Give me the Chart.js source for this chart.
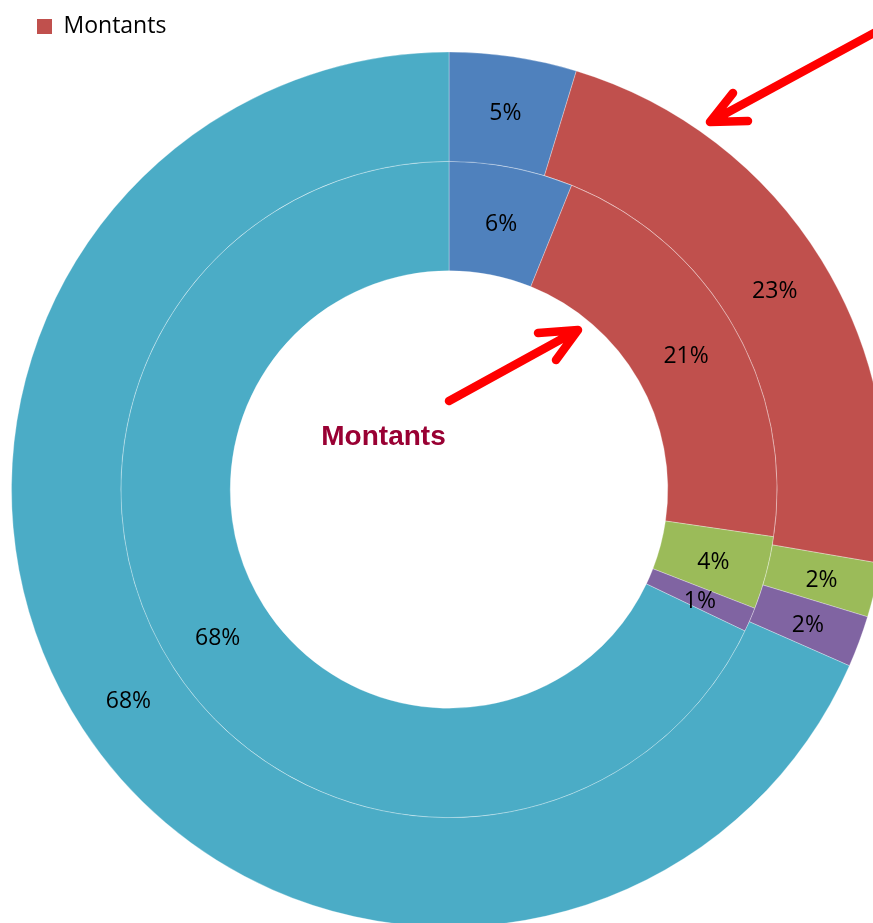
<!DOCTYPE html>
<html>
<head>
<meta charset="utf-8">
<script src="https://cdn.jsdelivr.net/npm/chart.js@4.4.1/dist/chart.umd.min.js"></script>
<style>
  html, body { margin: 0; padding: 0; background: #fff; overflow: hidden; }
  #wrap { position: relative; width: 873px; height: 931px; }
</style>
</head>
<body>
<div id="wrap"><canvas id="montantsChart"></canvas></div>
<script>
    // données
    var categories = ['Catégorie 1', 'Catégorie 2', 'Catégorie 3', 'Catégorie 4', 'Catégorie 5'];
    var outerValues = [4.7, 23.0, 2.0, 1.9, 68.4];
    var innerValues = [6.1, 21.2, 3.6, 1.2, 67.9];
    var sliceColors = ['#4F81BD', '#C0504D', '#9BBB59', '#8064A2', '#4BACC6'];
    var legendText = 'Montants';
    var centerText = 'Montants';

    // pourcentages sur chaque part
    var percentLabels = {
    id: 'percentLabels',
    afterDatasetsDraw: function(chart) {
    var ctx = chart.ctx;
    ctx.save();
    ctx.font = '23px "Open Sans"';
    ctx.fillStyle = '#000';
    ctx.textAlign = 'center';
    ctx.textBaseline = 'middle';
    chart.data.datasets.forEach(function(ds, i) {
    var meta = chart.getDatasetMeta(i);
    var total = ds.data.reduce(function(a, b) { return a + b; }, 0);
    meta.data.forEach(function(arc, j) {
    var p = arc.tooltipPosition();
    ctx.fillText(Math.round(ds.data[j] / total * 100) + '%', p.x, p.y + 3);
});
});
    ctx.restore();
}
};

    // flèches rouges et titre central
    function drawArrow(ctx, x1, y1, x2, y2, h1x, h1y, h2x, h2y) {
    ctx.beginPath();
    ctx.moveTo(x1, y1);
    ctx.lineTo(x2, y2);
    ctx.moveTo(h1x, h1y);
    ctx.lineTo(x2, y2);
    ctx.lineTo(h2x, h2y);
    ctx.stroke();
}

    var annotations = {
    id: 'annotations',
    afterDraw: function(chart) {
    var ctx = chart.ctx;
    ctx.save();
    ctx.strokeStyle = '#FF0000';
    ctx.lineWidth = 8.5;
    ctx.lineCap = 'round';
    ctx.lineJoin = 'round';
    drawArrow(ctx, 449, 401, 578, 330, 538, 333, 556, 360);
    drawArrow(ctx, 885, 27, 710, 122, 733, 93, 748, 121);
    ctx.fillStyle = '#990033';
    ctx.font = 'bold 28px "Liberation Sans"';
    ctx.textAlign = 'center';
    ctx.textBaseline = 'alphabetic';
    ctx.fillText(centerText, 383.5, 445);
    ctx.restore();
}
};

    var montantsChart = new Chart(document.getElementById('montantsChart').getContext('2d'), {
    type: 'doughnut',
    data: {
    labels: categories,
    datasets: [{
    label: 'Série 1',
    data: outerValues,
    backgroundColor: sliceColors,
    borderColor: 'rgba(255, 255, 255, 0.3)',
    borderWidth: 1,
    clip: false
}, {
    label: 'Montants',
    data: innerValues,
    backgroundColor: sliceColors,
    borderColor: 'rgba(255, 255, 255, 0.3)',
    borderWidth: 1,
    clip: false
}]
},
    options: {
    responsive: true,
    maintainAspectRatio: false,
    animation: false,
    events: [],
    radius: 437.5,
    cutout: '50%',
    layout: {
    padding: { left: 25, right: 0, top: 3, bottom: 0 }
},
    plugins: {
    tooltip: { enabled: false },
    legend: {
    position: 'top',
    align: 'start',
    labels: {
    boxWidth: 15,
    boxHeight: 15,
    padding: 12,
    color: '#000',
    font: { family: '"Open Sans"', size: 23 },
    generateLabels: function() {
    return [{ text: legendText, fillStyle: sliceColors[1], strokeStyle: sliceColors[1], lineWidth: 0, hidden: false }];
}
}
}
}
},
    plugins: [percentLabels, annotations]
});
</script>
</body>
</html>
